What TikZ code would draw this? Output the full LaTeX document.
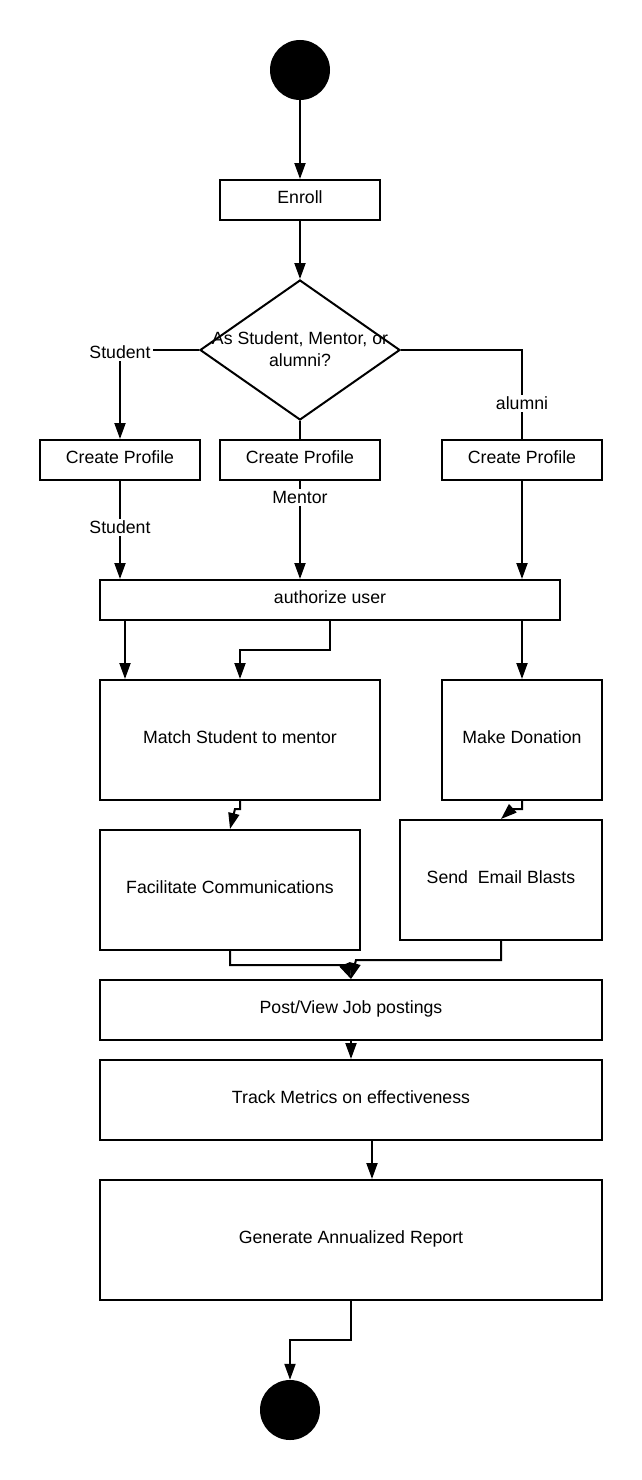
\documentclass[tikz,border=0pt]{standalone}
\usepackage{fontspec}
\setmainfont{Liberation Sans}
\usetikzlibrary{arrows.meta,shapes.geometric}
\begin{document}
\begin{tikzpicture}[x=1pt,y=-1pt,
  every node/.style={font=\fontsize{17.7}{22}\selectfont},
  bx/.style={draw,line width=2pt,rectangle,inner sep=0pt,text height=12.7pt,text depth=6pt},
  dot/.style={circle,fill=black,minimum size=60pt,inner sep=0pt},
  lbl/.style={fill=white,inner sep=2pt},
  ln/.style={line width=2pt},
  arr/.style={line width=2pt,-{Triangle[length=16pt,width=11pt]}}]
\useasboundingbox (0,0) rectangle (642,1480);
\node[dot] (start) at (300,70) {};
\node[bx,minimum width=160pt,minimum height=40pt] (enroll) at (300,200) {Enroll};
\node[draw,line width=2pt,diamond,minimum width=200pt,minimum height=140pt,inner sep=0pt] (dia) at (300,350) {};
\node[align=center] (diatext) at (300,349) {As Student, Mentor, or\\alumni?};
\node[bx,minimum width=160pt,minimum height=40pt] (cp1) at (120,460) {Create Profile};
\node[bx,minimum width=160pt,minimum height=40pt] (cp2) at (300,460) {Create Profile};
\node[bx,minimum width=160pt,minimum height=40pt] (cp3) at (522,460) {Create Profile};
\node[bx,minimum width=460pt,minimum height=40pt] (auth) at (330,600) {authorize user};
\node[bx,minimum width=280pt,minimum height=120pt] (match) at (240,740) {Match Student to mentor};
\node[bx,minimum width=160pt,minimum height=120pt] (don) at (522,740) {Make Donation};
\node[bx,minimum width=260pt,minimum height=120pt] (fac) at (230,890) {Facilitate Communications};
\node[bx,minimum width=202pt,minimum height=120pt] (email) at (501,880) {Send\ \ Email Blasts};
\node[bx,minimum width=502pt,minimum height=60pt] (post) at (351,1010) {Post/View Job postings};
\node[bx,minimum width=502pt,minimum height=80pt] (track) at (351,1100) {Track Metrics on effectiveness};
\node[bx,minimum width=502pt,minimum height=120pt] (report) at (351,1240) {Generate Annualized Report};
\node[dot] (end) at (290,1410) {};

\draw[arr] (start.south) -- (enroll.north);
\draw[arr] (enroll.south) -- (dia.north);
\draw[arr] (dia.west) -| node[lbl,pos=0.5,yshift=-2pt]{Student} (cp1.north);
\draw[ln] (dia.south) -- (cp2.north);
\draw[ln] (dia.east) -| node[lbl,pos=0.8]{alumni} (cp3.north);
\draw[arr] (cp1.south) -- node[lbl,pos=0.47]{Student} (cp1.south |- auth.north);
\draw[arr] (cp2.south) -- node[lbl,pos=0.17]{Mentor} (cp2.south |- auth.north);
\draw[arr] (cp3.south) -- (cp3.south |- auth.north);
\draw[arr] ([xshift=-205pt]auth.south) -- ([xshift=-205pt]auth.south |- match.north);
\draw[arr] (auth.south) -- (330,650) -| (match.north);
\draw[arr] (auth.south -| don.north) -- (don.north);
\draw[arr] (match.south) -- (240,809) -- (235,809) -- (fac.north);
\draw[arr] (don.south) -- (522,809) -- (512,809) -- (email.north);
\draw[arr] (fac.south) -- (230,965) -- (345,965) -- (post.north);
\draw[arr] (email.south) -- (501,960) -- (356,960) -- (post.north);
\draw[arr] (post.south) -- (track.north);
\draw[arr] ([xshift=21pt]track.south) -- ([xshift=21pt]report.north);
\draw[arr] (report.south) -- (351,1340) -| (end.north);
\end{tikzpicture}
\end{document}
